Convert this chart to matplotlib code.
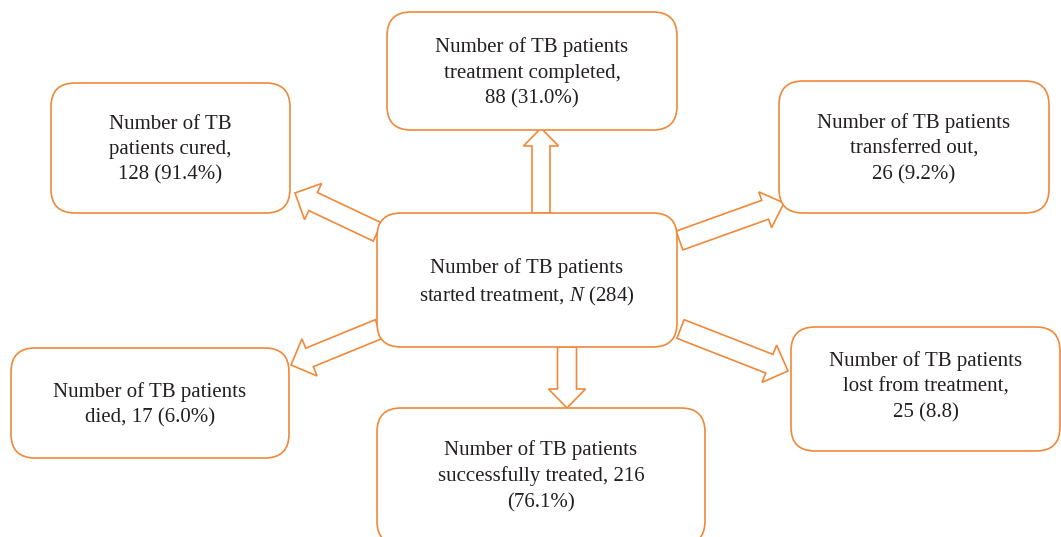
import matplotlib
matplotlib.use("Agg")
import matplotlib.pyplot as plt
from matplotlib.patches import FancyBboxPatch, FancyArrow

plt.rcParams['mathtext.fontset'] = 'custom'
plt.rcParams['mathtext.it'] = 'Liberation Serif:italic'
plt.rcParams['mathtext.rm'] = 'Liberation Serif'

# ---- data ----
total_label = "Number of TB patients\nstarted treatment, $N$ (284)"
total_n = 284
outcome_labels = [
    "Number of TB\npatients cured,\n128 (91.4%)",
    "Number of TB patients\ntreatment completed,\n88 (31.0%)",
    "Number of TB patients\ntransferred out,\n26 (9.2%)",
    "Number of TB patients\ndied, 17 (6.0%)",
    "Number of TB patients\nsuccessfully treated, 216\n(76.1%)",
    "Number of TB patients\nlost from treatment,\n25 (8.8)",
]
outcome_counts = [128, 88, 26, 17, 216, 25]

# ---- layout (pixel coordinates) ----
W, H = 1061, 537
ORANGE = '#F0883A'
TXT = '#231F20'

center_box = (377, 213, 677, 347)
outcome_boxes = [
    (51, 83, 290, 213),
    (387, 12, 677, 130),
    (779, 81, 1049, 213),
    (11, 348, 289, 458),
    (377, 408, 705, 545),
    (791, 327, 1060, 451),
]
outcome_text_y = [147, 70, 146, 402, 473, 384]

arrows = [  # (tail x, tail y, tip x, tip y, shaft width, head width, head length)
    (377.5, 232, 295, 193, 20, 40, 20),
    (541, 213, 541, 128, 18, 35, 18),
    (679.5, 240.5, 784, 203, 20, 38, 20),
    (379, 329, 291, 365, 20, 40, 20),
    (567, 347, 567, 408, 19, 37, 19),
    (680.5, 329, 788, 371, 20, 40, 20),
]

fig = plt.figure(figsize=(W / 100, H / 100), dpi=100)
ax = fig.add_axes([0, 0, 1, 1])
ax.set_xlim(0, W)
ax.set_ylim(H, 0)
ax.axis('off')


def draw_box(b, label, ty=None):
    x0, y0, x1, y1 = b
    p = FancyBboxPatch((x0, y0), x1 - x0, y1 - y0,
                       boxstyle="round,pad=0,rounding_size=24",
                       fc='white', ec=ORANGE, lw=1.2, zorder=2)
    ax.add_patch(p)
    if ty is None:
        ty = (y0 + y1) / 2
    ax.text((x0 + x1) / 2, ty + 3, label, ha='center', va='center',
            family='Liberation Serif', fontsize=15, color=TXT,
            linespacing=1.45, zorder=4)


for (tx, ty, hx, hy, sw, hw, hl) in arrows:
    a = FancyArrow(tx, ty, hx - tx, hy - ty, width=sw, head_width=hw,
                   head_length=hl, length_includes_head=True,
                   fc='white', ec=ORANGE, lw=1.2, zorder=1)
    ax.add_patch(a)

draw_box(center_box, total_label, ty=280)
for b, lab, ty in zip(outcome_boxes, outcome_labels, outcome_text_y):
    draw_box(b, lab, ty)

fig.savefig('out.png', dpi=100)
